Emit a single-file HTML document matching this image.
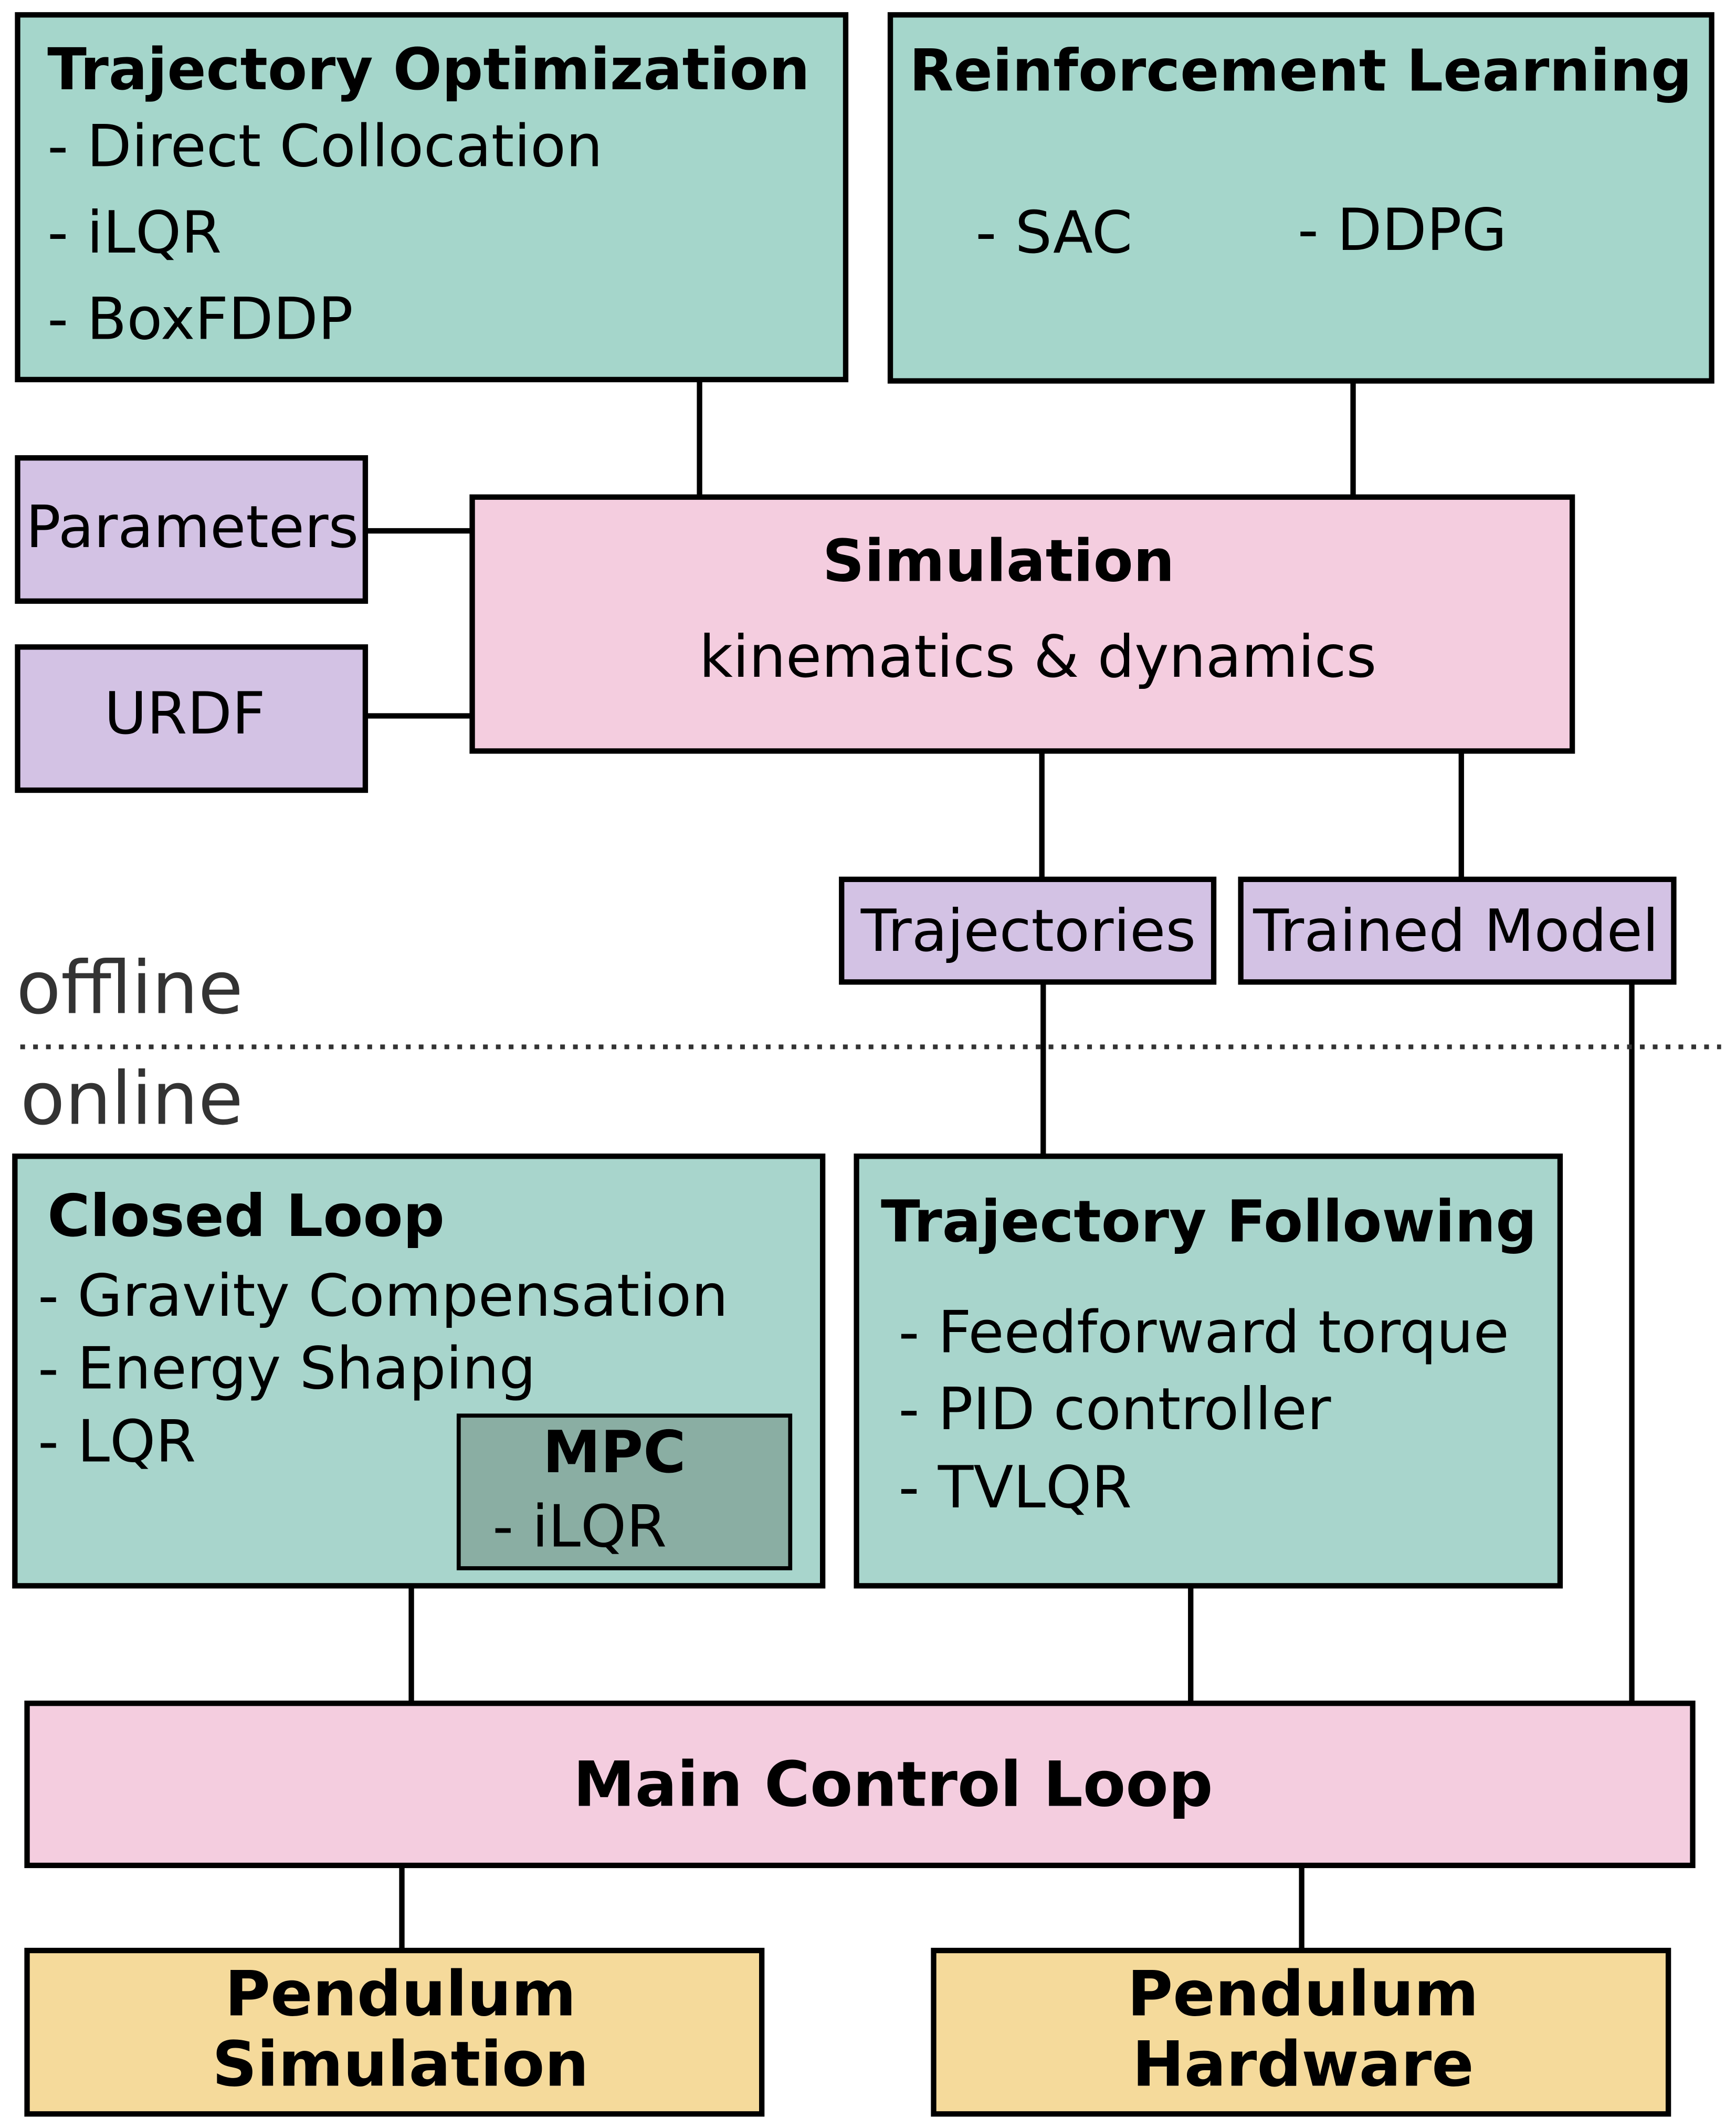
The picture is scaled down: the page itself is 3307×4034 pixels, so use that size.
<!DOCTYPE html>
<html><head><meta charset="utf-8"><style>
html,body{margin:0;padding:0;background:#fff}
svg{display:block}
text{font-family:"DejaVu Sans","Liberation Sans",sans-serif;fill:#000}
.b{font-weight:bold}
</style></head><body>
<svg width="3307" height="4034" viewBox="0 0 1283 1568" preserveAspectRatio="none" xmlns="http://www.w3.org/2000/svg">
<g stroke="#000" stroke-width="4">
<line x1="517" y1="281" x2="517" y2="368"/>
<line x1="1000" y1="282" x2="1000" y2="368"/>
<line x1="270" y1="393" x2="349" y2="393"/>
<line x1="270" y1="530" x2="349" y2="530"/>
<line x1="770" y1="556" x2="770" y2="651"/>
<line x1="1080" y1="556" x2="1080" y2="651"/>
<line x1="771" y1="727" x2="771" y2="856"/>
<line x1="1206" y1="727" x2="1206" y2="1261"/>
<line x1="304" y1="1174" x2="304" y2="1261"/>
<line x1="880" y1="1174" x2="880" y2="1261"/>
<line x1="297" y1="1381" x2="297" y2="1444"/>
<line x1="962" y1="1381" x2="962" y2="1444"/>
<rect x="13" y="11" width="612" height="270" fill="#a5d6cb"/>
<rect x="658" y="11" width="607" height="271" fill="#a5d6cb"/>
<rect x="13" y="339" width="257" height="106" fill="#d3c2e4"/>
<rect x="13" y="479" width="257" height="106" fill="#d3c2e4"/>
<rect x="349" y="368" width="813" height="188" fill="#f4cddf"/>
<rect x="622" y="651" width="275" height="76" fill="#d3c2e4"/>
<rect x="917" y="651" width="320" height="76" fill="#d3c2e4"/>
<rect x="11" y="856" width="597" height="318" fill="#a8d5cc"/>
<rect x="633" y="856" width="520" height="318" fill="#a8d5cc"/>
<rect x="20" y="1261" width="1231" height="120" fill="#f4cddf"/>
<rect x="20" y="1444" width="543" height="121" fill="#f5da9b"/>
<rect x="690" y="1444" width="543" height="121" fill="#f5da9b"/>
</g>
<rect x="339" y="1048" width="245" height="113" fill="#8aaea3" stroke="#000" stroke-width="3"/>
<line x1="15" y1="775" x2="1272" y2="775" stroke="#333" stroke-width="3.5" stroke-dasharray="3.5,6"/>
<g font-size="43">
<text x="35" y="66" class="b" font-size="42.5">Trajectory Optimization</text>
<text x="35" y="123">- Direct Collocation</text>
<text x="35" y="187">- iLQR</text>
<text x="35" y="251">- BoxFDDP</text>
<text x="672" y="67" class="b" font-size="42.5">Reinforcement Learning</text>
<text x="721" y="187">- SAC</text>
<text x="959" y="185">- DDPG</text>
<text x="19" y="405">Parameters</text>
<text x="77" y="543">URDF</text>
<text x="738" y="430" class="b" text-anchor="middle">Simulation</text>
<text x="767" y="501" text-anchor="middle">kinematics &amp; dynamics</text>
<text x="760" y="704" text-anchor="middle">Trajectories</text>
<text x="1076" y="704" text-anchor="middle">Trained Model</text>
<text x="12" y="750" font-size="54" style="fill:#333">offline</text>
<text x="15" y="832" font-size="54" style="fill:#333">online</text>
<text x="35" y="915" class="b">Closed Loop</text>
<text x="28" y="974">- Gravity Compensation</text>
<text x="28" y="1028">- Energy Shaping</text>
<text x="28" y="1082">- LQR</text>
<text x="454" y="1090" class="b" text-anchor="middle">MPC</text>
<text x="364" y="1145">- iLQR</text>
<text x="651" y="919" class="b" font-size="42.5">Trajectory Following</text>
<text x="664" y="1001">- Feedforward torque</text>
<text x="664" y="1058">- PID controller</text>
<text x="664" y="1116">- TVLQR</text>
<text x="660" y="1337" class="b" text-anchor="middle" font-size="46">Main Control Loop</text>
<text x="296" y="1492" class="b" text-anchor="middle" font-size="46">Pendulum</text>
<text x="296" y="1544" class="b" text-anchor="middle" font-size="46">Simulation</text>
<text x="963" y="1492" class="b" text-anchor="middle" font-size="46">Pendulum</text>
<text x="963" y="1544" class="b" text-anchor="middle" font-size="46">Hardware</text>
</g>
</svg>
</body></html>
